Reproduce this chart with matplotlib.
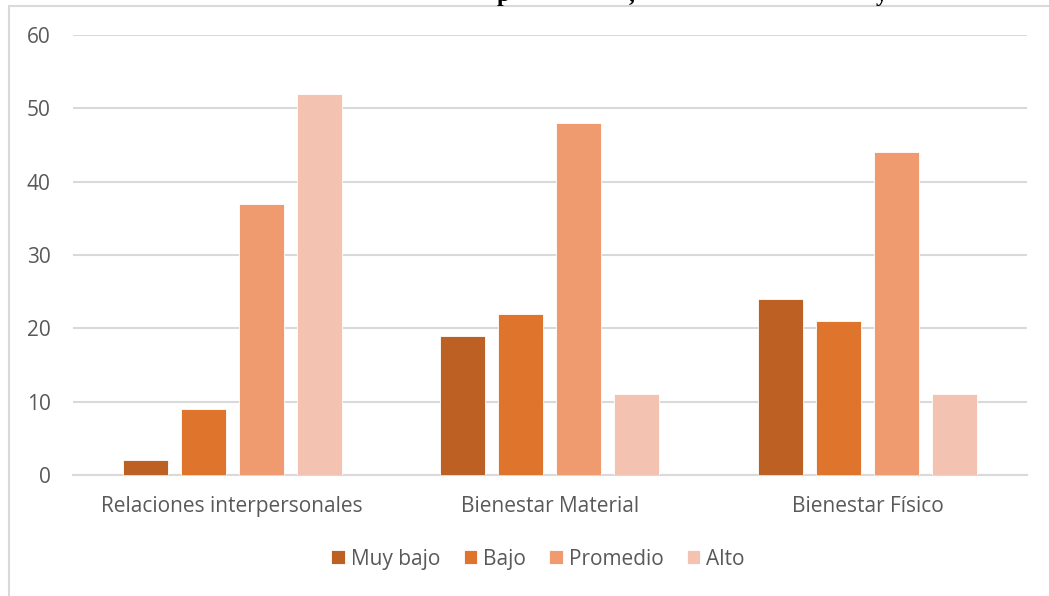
import matplotlib.pyplot as plt
import numpy as np
from matplotlib.patches import Rectangle

categorias = ["Relaciones interpersonales", "Bienestar Material", "Bienestar Físico"]
niveles = ["Muy bajo", "Bajo", "Promedio", "Alto"]
muy_bajo = [2, 19, 24]
bajo = [9, 22, 21]
promedio = [37, 48, 44]
alto = [52, 11, 11]
colores = ["#BC6023", "#DF742D", "#F09A70", "#F4C2B1"]

plt.rcParams['font.family'] = ['Open Sans', 'DejaVu Sans']

fig = plt.figure(figsize=(10.49, 5.96), dpi=100)
ax = fig.add_axes([0.0696, 0.203, 0.9094, 0.738])

x = np.arange(len(categorias))
ancho = 0.1415
paso = 0.1824
series = [muy_bajo, bajo, promedio, alto]
for i, vals in enumerate(series):
    ax.bar(x + (i - 1.5) * paso, vals, ancho, color=colores[i], label=niveles[i],
           edgecolor="white", linewidth=0.6, zorder=3)

ax.set_xlim(-0.5, 2.5)
ax.set_ylim(0, 60)
ax.set_yticks(range(0, 61, 10))
ax.set_xticks(x)
ax.set_xticklabels(categorias)
ax.grid(axis="y", color="#D9D9D9", linewidth=1.5, zorder=0)
for s in ["top", "right", "left"]:
    ax.spines[s].set_visible(False)
ax.spines["bottom"].set_color("#D9D9D9")
ax.spines["bottom"].set_linewidth(1.5)
ax.tick_params(axis="both", length=0, labelsize=15, colors="#595959")
ax.tick_params(axis="y", pad=16)
ax.tick_params(axis="x", pad=15)

leg = ax.legend(loc="center", bbox_to_anchor=(0.513, 0.062), bbox_transform=fig.transFigure,
                ncol=4, frameon=False, fontsize=15, handlelength=0.65, handleheight=0.65,
                handletextpad=0.3, columnspacing=1.1)
for t in leg.get_texts():
    t.set_color("#595959")

# chart border (right and bottom edges fall outside the image)
fig.patches.append(Rectangle((9 / 1049, -0.1), 1.2, 1 - 6 / 596 + 0.1, transform=fig.transFigure,
                             fill=False, edgecolor="#D9D9D9", linewidth=1.5))

# cut-off title fragments at the top edge
for letra, px in [("p", 503), (",", 632), ("y", 882)]:
    fig.text(px / 1049, 0.999, letra, fontsize=17, fontweight="bold", family="Liberation Serif",
             ha="center", va="baseline", color="black")

fig.savefig("out.png", dpi=100)
